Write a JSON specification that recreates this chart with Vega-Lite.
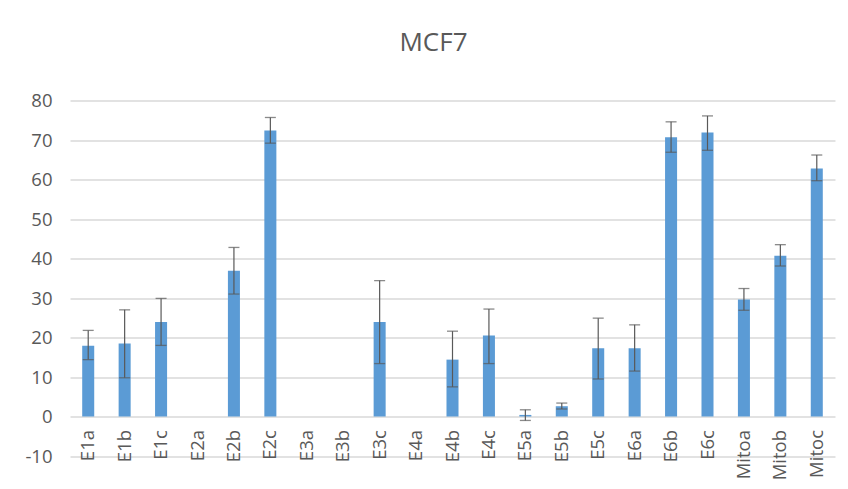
{
  "$schema": "https://vega.github.io/schema/vega-lite/v6.json",
  "autosize": {"type": "none"},
  "width": 765,
  "height": 355.5,
  "padding": {"left": 70, "top": 100.5, "right": 13, "bottom": 33},
  "background": "white",
  "title": {
    "text": "MCF7",
    "font": "Open Sans",
    "fontSize": 26,
    "fontWeight": "normal",
    "color": "#595959",
    "anchor": "middle",
    "dx": -19,
    "baseline": "alphabetic",
    "offset": 15
  },
  "config": {
    "view": {"stroke": null},
    "axis": {"labelFont": "Open Sans", "labelColor": "#595959", "labelFontSize": 18.5}
  },
  "data": {
    "values": [
      {"cat": "E1a", "value": 17.9, "lo": 14.4, "hi": 21.8},
      {"cat": "E1b", "value": 18.5, "lo": 9.8, "hi": 27.0},
      {"cat": "E1c", "value": 23.9, "lo": 18.0, "hi": 29.9},
      {"cat": "E2a", "value": null, "lo": null, "hi": null},
      {"cat": "E2b", "value": 36.9, "lo": 31.0, "hi": 42.8},
      {"cat": "E2c", "value": 72.4, "lo": 69.2, "hi": 75.7},
      {"cat": "E3a", "value": null, "lo": null, "hi": null},
      {"cat": "E3b", "value": null, "lo": null, "hi": null},
      {"cat": "E3c", "value": 23.9, "lo": 13.4, "hi": 34.4},
      {"cat": "E4a", "value": null, "lo": null, "hi": null},
      {"cat": "E4b", "value": 14.4, "lo": 7.5, "hi": 21.6},
      {"cat": "E4c", "value": 20.5, "lo": 13.4, "hi": 27.2},
      {"cat": "E5a", "value": 0.4, "lo": -1.0, "hi": 1.7},
      {"cat": "E5b", "value": 2.6, "lo": 1.9, "hi": 3.4},
      {"cat": "E5c", "value": 17.3, "lo": 9.5, "hi": 24.9},
      {"cat": "E6a", "value": 17.3, "lo": 11.5, "hi": 23.2},
      {"cat": "E6b", "value": 70.7, "lo": 66.9, "hi": 74.6},
      {"cat": "E6c", "value": 71.9, "lo": 67.4, "hi": 76.1},
      {"cat": "Mitoa", "value": 29.6, "lo": 26.9, "hi": 32.4},
      {"cat": "Mitob", "value": 40.7, "lo": 38.1, "hi": 43.5},
      {"cat": "Mitoc", "value": 62.8, "lo": 59.7, "hi": 66.2}
    ]
  },
  "encoding": {
    "x": {
      "field": "cat",
      "type": "nominal",
      "sort": null,
      "scale": {
        "domain": ["E1a","E1b","E1c","E2a","E2b","E2c","E3a","E3b","E3c","E4a","E4b","E4c","E5a","E5b","E5c","E6a","E6b","E6c","Mitoa","Mitob","Mitoc"],
        "paddingInner": 0.67,
        "paddingOuter": 0.335
      },
      "axis": {
        "title": null,
        "labelAngle": -90,
        "domain": false,
        "ticks": false,
        "grid": false,
        "offset": -39.5,
        "labelPadding": 13,
        "labelOverlap": false
      }
    }
  },
  "layer": [
    {
      "mark": {"type": "bar", "color": "#5B9BD5"},
      "encoding": {
        "y": {
          "field": "value",
          "type": "quantitative",
          "scale": {"domain": [-10, 80], "nice": false, "zero": false},
          "axis": {
            "title": null,
            "values": [-10, 0, 10, 20, 30, 40, 50, 60, 70, 80],
            "tickCount": 20,
            "labelExpr": "'' + datum.value",
            "domain": false,
            "ticks": false,
            "grid": true,
            "gridColor": "#D9D9D9",
            "gridWidth": 1.3,
            "labelPadding": 18,
            "labelOverlap": false,
            "labelFlush": false
          }
        },
        "y2": {"datum": 0}
      }
    },
    {
      "mark": {"type": "rule", "color": "#595959", "strokeWidth": 1.2},
      "encoding": {
        "y": {"field": "lo", "type": "quantitative"},
        "y2": {"field": "hi"}
      }
    },
    {
      "mark": {"type": "tick", "color": "#595959", "thickness": 1.3, "size": 11},
      "encoding": {"y": {"field": "lo", "type": "quantitative"}}
    },
    {
      "mark": {"type": "tick", "color": "#595959", "thickness": 1.3, "size": 11},
      "encoding": {"y": {"field": "hi", "type": "quantitative"}}
    }
  ]
}
